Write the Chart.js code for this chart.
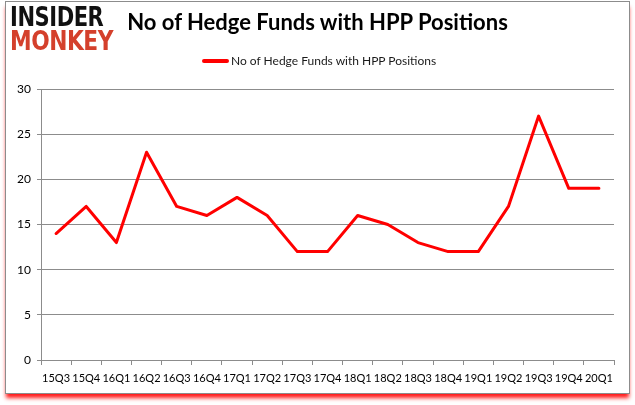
<!DOCTYPE html>
<html><head><meta charset="utf-8">
<script src="https://cdn.jsdelivr.net/npm/chart.js@4"></script>
<style>
html,body{margin:0;padding:0;background:#fff;}
#wrap{position:relative;width:635px;height:405px;overflow:hidden;}
#frame{position:absolute;left:5px;top:1px;width:623px;height:391px;border:1px solid #8c8c8c;box-shadow:0 5px 4px -1px rgba(255,0,0,0.9);background:#fff;}
canvas{position:absolute;left:0;top:0;}
.logo{position:absolute;left:10px;font-family:"DejaVu Sans Condensed","DejaVu Sans";font-weight:bold;font-size:26px;line-height:22px;transform-origin:0 0;white-space:nowrap;}
#title{position:absolute;left:0;width:635px;top:8px;text-align:center;font-family:Lato;font-weight:bold;font-size:22px;color:#000;}
#legend{position:absolute;left:202px;top:53px;font-family:Lato;font-size:12px;color:#1a1a1a;white-space:nowrap;}
#legend span.sw{display:inline-block;width:27px;height:4px;background:#ff0000;vertical-align:middle;margin-right:2px;position:relative;top:-1px;border-radius:2px;}
</style></head>
<body><div id="wrap"><div id="frame"></div>
<canvas id="c" width="635" height="405"></canvas>
<div class="logo" style="top:6px;color:#111;transform:scaleX(0.9);letter-spacing:-0.5px;">INSIDER</div>
<div class="logo" style="top:30px;color:#d4402c;transform:scaleX(0.93);letter-spacing:-0.5px;">MONKEY</div>
<div id="title">No of Hedge Funds with HPP Positions</div>
<div id="legend"><span class="sw"></span>No of Hedge Funds with HPP Positions</div>
</div>
<script>
const categories = ["15Q3","15Q4","16Q1","16Q2","16Q3","16Q4","17Q1","17Q2","17Q3","17Q4","18Q1","18Q2","18Q3","18Q4","19Q1","19Q2","19Q3","19Q4","20Q1"];
const hedgeFunds = [14,17,13,23,17,16,18,16,12,12,16,15,13,12,12,17,27,19,19];
const yTicks = [0,5,10,15,20,25,30];
const seriesName = "No of Hedge Funds with HPP Positions";

new Chart(document.getElementById('c'), {
  type: 'line',
  data: { labels: categories, datasets: [{ label: seriesName, data: hedgeFunds, borderColor: '#ff0000', backgroundColor: '#ff0000', borderWidth: 3, pointRadius: 0, tension: 0, borderJoinStyle: 'round', borderCapStyle: 'round' }] },
  options: {
    responsive: false, animation: false, devicePixelRatio: 1,
    layout: { padding: { left: 0, right: 21, top: 89, bottom: 15 } },
    plugins: { legend: { display: false }, title: { display: false }, tooltip: { enabled: false } },
    scales: {
      x: {
        offset: true,
        grid: { display: true, drawOnChartArea: false, offset: true, color: '#8c8c8c', tickLength: 5 },
        border: { color: '#8c8c8c' },
        ticks: { autoSkip: false, maxRotation: 0, minRotation: 0, color: '#000', font: { family: 'Lato', size: 11 }, padding: 7 },
        afterFit: s => { s.height = 30; }
      },
      y: {
        min: 0, max: 30,
        afterBuildTicks: s => { s.ticks = yTicks.map(v => ({ value: v })); },
        grid: { color: '#8c8c8c', drawTicks: true, tickLength: 4 },
        border: { color: '#8c8c8c' },
        ticks: { color: '#000', font: { family: 'Lato', size: 12 }, padding: 6 },
        afterFit: s => { s.width = 41; }
      }
    }
  }
});
</script></body></html>
